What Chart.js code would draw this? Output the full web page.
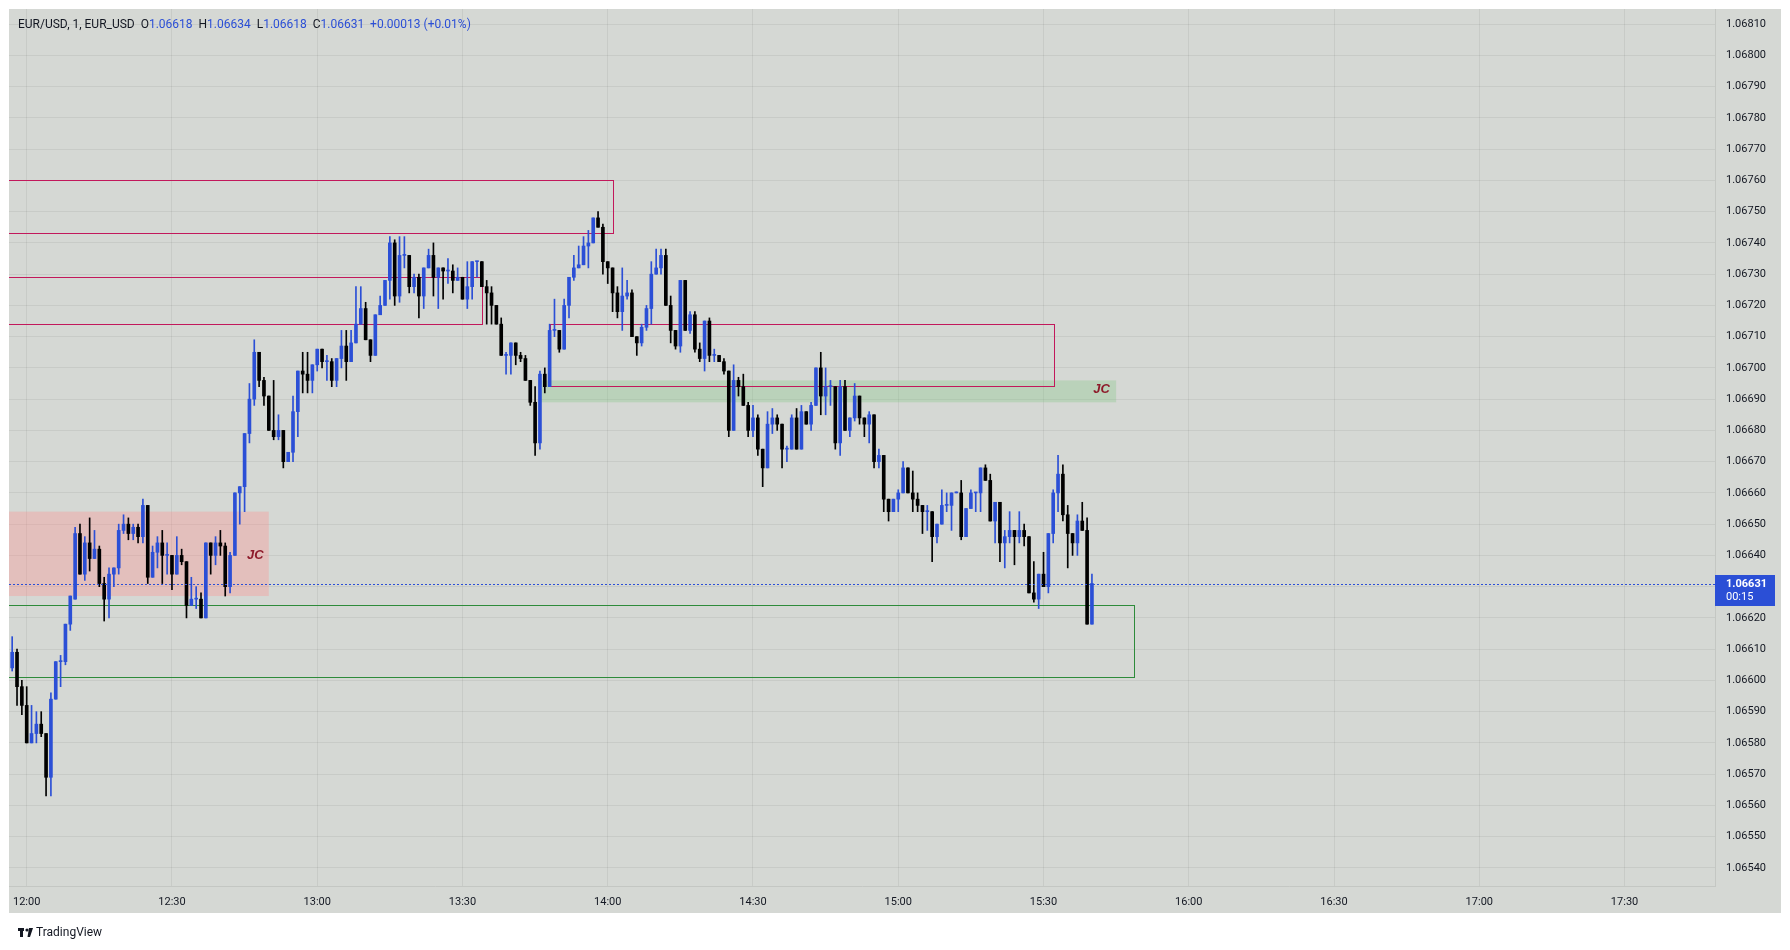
<!DOCTYPE html>
<html lang="en">
<head>
<meta charset="utf-8" />
<title>EUR/USD, 1</title>
<script src="https://cdn.jsdelivr.net/npm/chart.js"></script>
<style>
  html, body { margin: 0; padding: 0; background: #ffffff; }
  #wrap { width: 1790px; height: 950px; }
</style>
</head>
<body>
<div id="wrap"><canvas id="fx" width="1790" height="950"></canvas></div>
<script>
// 1-minute bars, first visible bar is 11:57 (minute -3 from 12:00)
const firstMinute = -3;

const opens = [
  1.06604,1.06609,1.06598,1.06592,1.06580,1.06583,1.06586,1.06583,1.06569,1.06594,1.06606,1.06606,1.06618,1.06626,
  1.06647,1.06634,1.06644,1.06639,1.06642,1.06631,1.06626,1.06634,1.06636,1.06648,1.06650,1.06647,1.06649,1.06646,
  1.06656,1.06633,1.06641,1.06644,1.06640,1.06640,1.06634,1.06640,1.06638,1.06624,1.06626,1.06626,1.06620,1.06644,
  1.06640,1.06644,1.06643,1.06630,1.06640,1.06660,1.06662,1.06679,1.06690,1.06705,1.06696,1.06691,1.06680,1.06678,
  1.06680,1.06670,1.06673,1.06686,1.06699,1.06698,1.06696,1.06701,1.06706,1.06702,1.06702,1.06696,1.06703,1.06707,
  1.06702,1.06708,1.06714,1.06719,1.06709,1.06704,1.06717,1.06720,1.06728,1.06740,1.06723,1.06736,1.06736,1.06726,
  1.06729,1.06723,1.06732,1.06736,1.06729,1.06732,1.06731,1.06731,1.06728,1.06729,1.06722,1.06726,1.06734,1.06734,
  1.06726,1.06724,1.06720,1.06714,1.06704,1.06704,1.06708,1.06704,1.06703,1.06696,1.06689,1.06676,1.06698,1.06694,
  1.06712,1.06712,1.06706,1.06720,1.06729,1.06732,1.06733,1.06739,1.06740,1.06748,1.06745,1.06734,1.06732,1.06724,
  1.06718,1.06723,1.06724,1.06710,1.06708,1.06713,1.06719,1.06730,1.06732,1.06736,1.06720,1.06712,1.06707,1.06728,
  1.06712,1.06717,1.06706,1.06703,1.06715,1.06704,1.06704,1.06702,1.06699,1.06680,1.06696,1.06694,1.06688,1.06680,
  1.06684,1.06674,1.06668,1.06682,1.06684,1.06682,1.06674,1.06674,1.06684,1.06674,1.06686,1.06682,1.06688,1.06700,
  1.06691,1.06694,1.06694,1.06676,1.06694,1.06680,1.06684,1.06691,1.06684,1.06682,1.06685,1.06670,1.06672,1.06658,
  1.06654,1.06658,1.06660,1.06668,1.06660,1.06658,1.06656,1.06654,1.06654,1.06646,1.06650,1.06656,1.06656,1.06660,
  1.06660,1.06646,1.06655,1.06660,1.06660,1.06668,1.06664,1.06651,1.06657,1.06644,1.06646,1.06648,1.06646,1.06648,
  1.06646,1.06628,1.06626,1.06634,1.06630,1.06647,1.06660,1.06666,1.06653,1.06647,1.06644,1.06651,1.06648,1.06618
];
const highs = [
  1.06614,1.06610,1.06600,1.06598,1.06592,1.06590,1.06590,1.06583,1.06596,1.06606,1.06608,1.06618,1.06627,1.06649,
  1.06650,1.06646,1.06652,1.06648,1.06643,1.06633,1.06636,1.06636,1.06650,1.06653,1.06652,1.06650,1.06650,1.06658,
  1.06656,1.06643,1.06646,1.06648,1.06644,1.06640,1.06646,1.06642,1.06638,1.06633,1.06630,1.06628,1.06644,1.06644,
  1.06646,1.06648,1.06644,1.06641,1.06660,1.06662,1.06679,1.06695,1.06709,1.06705,1.06697,1.06691,1.06696,1.06685,
  1.06680,1.06673,1.06691,1.06699,1.06705,1.06705,1.06701,1.06706,1.06706,1.06704,1.06703,1.06703,1.06712,1.06712,
  1.06712,1.06726,1.06726,1.06721,1.06709,1.06717,1.06723,1.06728,1.06742,1.06741,1.06742,1.06742,1.06736,1.06730,
  1.06730,1.06732,1.06738,1.06740,1.06732,1.06732,1.06735,1.06733,1.06732,1.06729,1.06734,1.06734,1.06734,1.06734,
  1.06728,1.06726,1.06720,1.06716,1.06705,1.06708,1.06708,1.06705,1.06704,1.06696,1.06694,1.06699,1.06700,1.06714,
  1.06722,1.06712,1.06722,1.06729,1.06736,1.06739,1.06742,1.06744,1.06748,1.06750,1.06746,1.06734,1.06732,1.06726,
  1.06732,1.06728,1.06725,1.06710,1.06714,1.06720,1.06734,1.06738,1.06738,1.06738,1.06723,1.06712,1.06728,1.06728,
  1.06718,1.06718,1.06708,1.06715,1.06716,1.06706,1.06704,1.06703,1.06699,1.06701,1.06697,1.06698,1.06689,1.06688,
  1.06685,1.06674,1.06686,1.06687,1.06685,1.06682,1.06675,1.06685,1.06687,1.06688,1.06686,1.06689,1.06700,1.06705,
  1.06700,1.06696,1.06694,1.06696,1.06696,1.06684,1.06695,1.06691,1.06684,1.06686,1.06685,1.06674,1.06672,1.06658,
  1.06658,1.06661,1.06670,1.06668,1.06667,1.06660,1.06656,1.06656,1.06654,1.06650,1.06661,1.06660,1.06660,1.06660,
  1.06664,1.06655,1.06661,1.06660,1.06668,1.06669,1.06666,1.06657,1.06657,1.06648,1.06654,1.06648,1.06654,1.06650,
  1.06646,1.06638,1.06634,1.06641,1.06647,1.06661,1.06672,1.06669,1.06656,1.06647,1.06653,1.06657,1.06652,1.06634
];
const lows = [
  1.06603,1.06592,1.06589,1.06580,1.06580,1.06580,1.06582,1.06563,1.06563,1.06594,1.06598,1.06605,1.06616,1.06626,
  1.06634,1.06632,1.06635,1.06639,1.06630,1.06619,1.06620,1.06630,1.06634,1.06647,1.06645,1.06645,1.06644,1.06644,
  1.06631,1.06633,1.06636,1.06631,1.06634,1.06629,1.06634,1.06637,1.06620,1.06624,1.06623,1.06620,1.06620,1.06634,
  1.06637,1.06640,1.06627,1.06628,1.06640,1.06650,1.06654,1.06676,1.06688,1.06694,1.06688,1.06680,1.06677,1.06677,
  1.06668,1.06670,1.06670,1.06678,1.06692,1.06692,1.06692,1.06699,1.06700,1.06696,1.06694,1.06694,1.06700,1.06696,
  1.06702,1.06708,1.06714,1.06709,1.06702,1.06704,1.06717,1.06720,1.06722,1.06720,1.06721,1.06732,1.06724,1.06724,
  1.06716,1.06719,1.06732,1.06723,1.06719,1.06722,1.06727,1.06724,1.06728,1.06722,1.06719,1.06722,1.06729,1.06726,
  1.06714,1.06714,1.06714,1.06704,1.06698,1.06698,1.06701,1.06702,1.06696,1.06688,1.06672,1.06674,1.06692,1.06694,
  1.06710,1.06705,1.06706,1.06716,1.06728,1.06732,1.06733,1.06732,1.06740,1.06745,1.06730,1.06727,1.06718,1.06716,
  1.06712,1.06722,1.06710,1.06704,1.06707,1.06712,1.06714,1.06730,1.06730,1.06720,1.06708,1.06706,1.06705,1.06712,
  1.06711,1.06705,1.06702,1.06699,1.06702,1.06702,1.06702,1.06698,1.06678,1.06680,1.06691,1.06688,1.06678,1.06678,
  1.06672,1.06662,1.06668,1.06679,1.06680,1.06668,1.06670,1.06674,1.06674,1.06674,1.06682,1.06680,1.06688,1.06685,
  1.06685,1.06688,1.06674,1.06672,1.06680,1.06678,1.06683,1.06682,1.06678,1.06676,1.06668,1.06668,1.06654,1.06651,
  1.06654,1.06654,1.06660,1.06660,1.06654,1.06654,1.06647,1.06648,1.06638,1.06644,1.06650,1.06654,1.06648,1.06660,
  1.06645,1.06646,1.06655,1.06654,1.06654,1.06664,1.06651,1.06644,1.06638,1.06636,1.06644,1.06637,1.06644,1.06643,
  1.06628,1.06625,1.06623,1.06630,1.06628,1.06644,1.06654,1.06651,1.06636,1.06640,1.06640,1.06648,1.06618,1.06618
];
const closes = [
  1.06609,1.06598,1.06592,1.06580,1.06583,1.06586,1.06583,1.06569,1.06594,1.06606,1.06606,1.06618,1.06627,1.06647,
  1.06634,1.06644,1.06639,1.06642,1.06631,1.06626,1.06634,1.06636,1.06648,1.06650,1.06647,1.06649,1.06646,1.06656,
  1.06633,1.06641,1.06644,1.06640,1.06640,1.06634,1.06640,1.06638,1.06624,1.06626,1.06626,1.06620,1.06644,1.06640,
  1.06644,1.06643,1.06630,1.06640,1.06660,1.06662,1.06679,1.06690,1.06705,1.06696,1.06691,1.06680,1.06678,1.06680,
  1.06670,1.06673,1.06686,1.06699,1.06698,1.06696,1.06701,1.06706,1.06702,1.06702,1.06696,1.06703,1.06707,1.06702,
  1.06708,1.06714,1.06719,1.06709,1.06704,1.06717,1.06720,1.06728,1.06740,1.06723,1.06736,1.06736,1.06726,1.06729,
  1.06723,1.06732,1.06736,1.06729,1.06732,1.06731,1.06731,1.06728,1.06729,1.06722,1.06726,1.06734,1.06734,1.06726,
  1.06724,1.06720,1.06714,1.06704,1.06704,1.06708,1.06704,1.06703,1.06696,1.06689,1.06676,1.06698,1.06694,1.06712,
  1.06712,1.06706,1.06720,1.06729,1.06732,1.06733,1.06739,1.06740,1.06748,1.06745,1.06734,1.06732,1.06724,1.06718,
  1.06723,1.06724,1.06710,1.06708,1.06713,1.06719,1.06730,1.06732,1.06736,1.06720,1.06712,1.06707,1.06728,1.06712,
  1.06717,1.06706,1.06703,1.06715,1.06704,1.06704,1.06702,1.06699,1.06680,1.06696,1.06694,1.06688,1.06680,1.06684,
  1.06674,1.06668,1.06682,1.06684,1.06682,1.06674,1.06674,1.06684,1.06674,1.06686,1.06682,1.06688,1.06700,1.06691,
  1.06694,1.06694,1.06676,1.06694,1.06680,1.06684,1.06691,1.06684,1.06682,1.06685,1.06670,1.06672,1.06658,1.06654,
  1.06658,1.06660,1.06668,1.06660,1.06658,1.06656,1.06654,1.06654,1.06646,1.06650,1.06656,1.06656,1.06660,1.06660,
  1.06646,1.06655,1.06660,1.06660,1.06668,1.06664,1.06651,1.06657,1.06644,1.06646,1.06648,1.06646,1.06648,1.06646,
  1.06628,1.06626,1.06634,1.06630,1.06647,1.06660,1.06666,1.06653,1.06647,1.06644,1.06651,1.06648,1.06618,1.06631
];

// axis ticks (minutes after 12:00) and their labels
const timeTicks  = [0, 30, 60, 90, 120, 150, 180, 210, 240, 270, 300, 330];
const timeLabels = ['12:00','12:30','13:00','13:30','14:00','14:30','15:00','15:30','16:00','16:30','17:00','17:30'];
const priceTicks = [
  1.06540,1.06550,1.06560,1.06570,1.06580,1.06590,1.06600,1.06610,1.06620,1.06630,
  1.06640,1.06650,1.06660,1.06670,1.06680,1.06690,1.06700,1.06710,1.06720,1.06730,
  1.06740,1.06750,1.06760,1.06770,1.06780,1.06790,1.06800,1.06810
];

// drawn zones: [from minute, to minute, top price, bottom price]
const redBoxes   = [[-20, 121, 1.06760, 1.06743], [-20, 94, 1.06729, 1.06714], [108, 212, 1.06714, 1.06694]];
const greenFills = [[106, 225, 1.06696, 1.06689]];
const pinkFills  = [[-20, 50, 1.06654, 1.06627]];
const greenBoxes = [[-20, 228.6, 1.06624, 1.06601]];
const jcMarks    = [[47.2, 1.06640], [222, 1.06693]];
const countdown  = '00:15';

const UP = '#2b4fd6', DOWN = '#000000';
const BG = '#d5d8d4', GRID = 'rgba(0,0,0,0.06)', TEXT = '#131722';

const minutes = opens.map((_, i) => firstMinute + i);
const colors  = opens.map((o, i) => closes[i] >= o ? UP : DOWN);

const tvDecor = {
  id: 'tvDecor',
  beforeDraw(chart) {
    const c = chart.ctx;
    c.save();
    c.fillStyle = '#ffffff';
    c.fillRect(0, 0, chart.width, chart.height);
    c.fillStyle = BG;
    c.fillRect(9, 9, 1772, 904);
    c.restore();
  },
  beforeDatasetsDraw(chart) {
    const c = chart.ctx, xs = chart.scales.x, ys = chart.scales.y, a = chart.chartArea;
    const X = v => xs.getPixelForValue(v), Y = v => ys.getPixelForValue(v);
    c.save();
    c.beginPath(); c.rect(a.left, a.top, a.right - a.left, a.bottom - a.top); c.clip();
    pinkFills.forEach(z => {
      c.fillStyle = 'rgba(255,140,140,0.33)';
      c.fillRect(X(z[0]), Y(z[2]), X(z[1]) - X(z[0]), Y(z[3]) - Y(z[2]));
    });
    greenFills.forEach(z => {
      c.fillStyle = 'rgba(130,200,130,0.32)';
      c.fillRect(X(z[0]), Y(z[2]), X(z[1]) - X(z[0]), Y(z[3]) - Y(z[2]));
    });
    c.lineWidth = 1;
    redBoxes.forEach(z => {
      c.strokeStyle = '#c2185b';
      c.strokeRect(Math.round(X(z[0])) + 0.5, Math.round(Y(z[2])) + 0.5,
        Math.round(X(z[1]) - X(z[0])), Math.round(Y(z[3]) - Y(z[2])));
    });
    greenBoxes.forEach(z => {
      c.strokeStyle = '#2e8b3a';
      c.strokeRect(Math.round(X(z[0])) + 0.5, Math.round(Y(z[2])) + 0.5,
        Math.round(X(z[1]) - X(z[0])), Math.round(Y(z[3]) - Y(z[2])));
    });
    c.fillStyle = '#8e1b2b';
    c.font = 'italic bold 13px "Liberation Sans", sans-serif';
    c.textAlign = 'center'; c.textBaseline = 'middle';
    jcMarks.forEach(p => c.fillText('JC', X(p[0]), Y(p[1])));
    c.restore();
  },
  afterDraw(chart) {
    const c = chart.ctx, ys = chart.scales.y, a = chart.chartArea;
    const last = opens.length - 1;
    const lastClose = closes[last];
    const yl = Math.round(ys.getPixelForValue(lastClose)) + 0.5;
    c.save();
    // current price line
    c.strokeStyle = UP; c.lineWidth = 1; c.setLineDash([2, 2]);
    c.beginPath(); c.moveTo(a.left, yl); c.lineTo(a.right, yl); c.stroke();
    c.setLineDash([]);
    // price label on the axis
    c.fillStyle = UP;
    c.fillRect(a.right, yl - 9.5, 60, 31);
    c.fillStyle = '#ffffff';
    c.textAlign = 'left'; c.textBaseline = 'middle';
    c.font = 'bold 11px Roboto, sans-serif';
    c.fillText(lastClose.toFixed(5), a.right + 11, yl);
    c.font = '11px Roboto, sans-serif';
    c.fillText(countdown, a.right + 11, yl + 13);

    // legend line
    const diff = lastClose - closes[last - 1];
    const pct = diff / closes[last - 1] * 100;
    const sign = diff >= 0 ? '+' : '-';
    const parts = [
      ['EUR/USD, 1, EUR_USD  ', TEXT], ['O', TEXT], [opens[last].toFixed(5) + '  ', UP],
      ['H', TEXT], [highs[last].toFixed(5) + '  ', UP],
      ['L', TEXT], [lows[last].toFixed(5) + '  ', UP],
      ['C', TEXT], [lastClose.toFixed(5) + '  ', UP],
      [sign + Math.abs(diff).toFixed(5) + ' (' + sign + Math.abs(pct).toFixed(2) + '%)', UP]
    ];
    c.font = '12px Roboto, sans-serif';
    let x = 18;
    parts.forEach(p => {
      c.fillStyle = p[1];
      c.fillText(p[0], x, 25);
      x += c.measureText(p[0]).width;
    });

    // footer logo
    c.fillStyle = '#131722';
    c.fillRect(18, 928, 6, 3);
    c.fillRect(20, 928, 3, 9);
    c.beginPath(); c.arc(27, 930, 1.6, 0, Math.PI * 2); c.fill();
    c.beginPath(); c.moveTo(29, 928); c.lineTo(33, 928); c.lineTo(30, 937); c.lineTo(27.5, 937); c.closePath(); c.fill();
    c.font = '12px Roboto, sans-serif';
    c.fillText('TradingView', 36, 933);
    c.restore();
  }
};

new Chart(document.getElementById('fx').getContext('2d'), {
  type: 'bar',
  data: {
    datasets: [
      {
        label: 'wick',
        data: minutes.map((m, i) => ({ x: m, y: [lows[i], highs[i]] })),
        backgroundColor: colors,
        barThickness: 1,
        minBarLength: 1,
        grouped: false,
        order: 2
      },
      {
        label: 'body',
        data: minutes.map((m, i) => ({ x: m, y: [opens[i], closes[i]] })),
        backgroundColor: colors,
        barThickness: 3,
        minBarLength: 1,
        grouped: false,
        order: 1
      }
    ]
  },
  options: {
    responsive: false,
    animation: false,
    devicePixelRatio: 1,
    layout: { padding: { left: 9, top: 9, right: 9, bottom: 37 } },
    plugins: { legend: { display: false }, tooltip: { enabled: false } },
    scales: {
      x: {
        type: 'linear',
        min: -3.656,
        max: 348.68,
        offset: false,
        afterBuildTicks: s => { s.ticks = timeTicks.map(v => ({ value: v })); },
        afterFit: s => { s.height = 27; s.paddingLeft = 0; s.paddingRight = 0; },
        ticks: {
          autoSkip: false, maxRotation: 0, padding: 10, color: TEXT,
          font: { family: 'Roboto', size: 11 },
          callback: v => timeLabels[timeTicks.indexOf(v)]
        },
        grid: { color: GRID, drawTicks: false, offset: false },
        border: { color: '#c4c7c3' }
      },
      y: {
        position: 'right',
        min: 1.0653421,
        max: 1.0681485,
        beginAtZero: false,
        afterBuildTicks: s => { s.ticks = priceTicks.map(v => ({ value: v })); },
        afterFit: s => { s.width = 66; s.paddingTop = 0; s.paddingBottom = 0; },
        ticks: {
          padding: 11, color: TEXT,
          font: { family: 'Roboto', size: 11 },
          callback: v => v.toFixed(5)
        },
        grid: { color: GRID, drawTicks: false },
        border: { color: '#c4c7c3' }
      }
    }
  },
  plugins: [tvDecor]
});
</script>
</body>
</html>
